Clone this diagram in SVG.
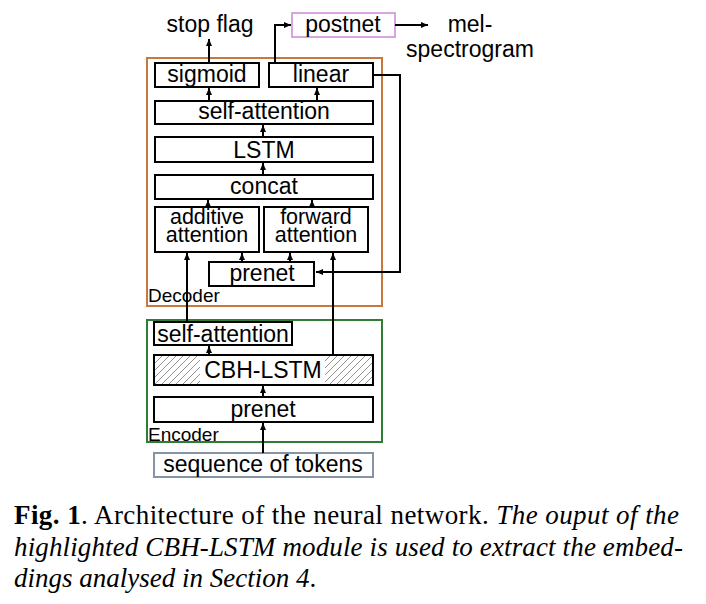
<svg xmlns="http://www.w3.org/2000/svg" width="706" height="604" viewBox="0 0 706 604">
<defs>
<style>
.box{fill:#fff;stroke:#000;stroke-width:2}
.t{font-family:"Liberation Sans",Arial,sans-serif;font-size:23px;fill:#000;text-anchor:middle}
.t2{font-family:"Liberation Sans",Arial,sans-serif;font-size:21.5px;fill:#000;text-anchor:middle}
.lbl{font-family:"Liberation Sans",Arial,sans-serif;font-size:19px;fill:#000}
.cap{font-family:"Liberation Serif","Times New Roman",serif;font-size:27px;fill:#000}
.ln{fill:none;stroke:#000;stroke-width:2}
</style>
<marker id="ah" markerWidth="8" markerHeight="8" refX="7" refY="4" orient="auto" markerUnits="userSpaceOnUse">
<path d="M0,1 L7,4 L0,7 Z" fill="#000"/>
</marker>
<pattern id="hatch" patternUnits="userSpaceOnUse" width="7" height="7">
<path d="M-1,8 L8,-1 M-1,1 L1,-1 M6,8 L8,6" stroke="#777" stroke-width="0.8"/>
</pattern>
</defs>
<rect width="706" height="604" fill="#fff"/>

<g id="decoder">
<rect x="147" y="58" width="235" height="248" fill="none" stroke="#c8783c" stroke-width="2"/>
<text class="lbl" x="148" y="302">Decoder</text>
</g>
<g id="encoder">
<rect x="147" y="320" width="235" height="122" fill="none" stroke="#2e7d32" stroke-width="2"/>
<text class="lbl" x="148" y="441">Encoder</text>
</g>

<g id="stop-flag"><text class="t" x="210" y="32">stop flag</text></g>
<g id="postnet">
<rect x="292" y="13" width="103" height="24" fill="#fff" stroke="#d8a4e0" stroke-width="2"/>
<text class="t" x="343" y="32">postnet</text>
</g>
<g id="mel-spectrogram">
<text class="t" x="470" y="32">mel-</text>
<text class="t" x="470" y="57">spectrogram</text>
</g>
<g id="sigmoid">
<rect class="box" x="155" y="63" width="104" height="24"/>
<text class="t" x="207" y="82">sigmoid</text>
</g>
<g id="linear">
<rect class="box" x="269" y="63" width="104" height="24"/>
<text class="t" x="321" y="82">linear</text>
</g>
<g id="dec-self-attention">
<rect class="box" x="155" y="101" width="218" height="23"/>
<text class="t" x="264" y="119">self-attention</text>
</g>
<g id="lstm">
<rect class="box" x="155" y="137" width="218" height="25"/>
<text class="t" x="264" y="158">LSTM</text>
</g>
<g id="concat">
<rect class="box" x="155" y="175" width="218" height="24"/>
<text class="t" x="264" y="194">concat</text>
</g>
<g id="additive-attention">
<rect class="box" x="155" y="207" width="104" height="45"/>
<text class="t2" x="207" y="224">additive</text>
<text class="t2" x="207" y="242">attention</text>
</g>
<g id="forward-attention">
<rect class="box" x="264" y="207" width="104" height="45"/>
<text class="t2" x="316" y="224">forward</text>
<text class="t2" x="316" y="242">attention</text>
</g>
<g id="dec-prenet">
<rect class="box" x="209" y="262" width="105" height="24"/>
<text class="t" x="262" y="281">prenet</text>
</g>

<g id="enc-self-attention">
<rect class="box" x="154" y="322" width="138" height="23"/>
<text class="t" x="223" y="342">self-attention</text>
</g>
<g id="cbh-lstm">
<rect x="154" y="355" width="219" height="30" fill="url(#hatch)" stroke="#000" stroke-width="2"/>
<rect x="200" y="356" width="125" height="28" fill="#fff"/>
<text class="t" x="263" y="378">CBH-LSTM</text>
</g>
<g id="enc-prenet">
<rect class="box" x="154" y="397" width="219" height="25"/>
<text class="t" x="263" y="417">prenet</text>
</g>
<g id="sequence-of-tokens">
<rect x="154" y="453" width="219" height="24" fill="#fff" stroke="#8494a4" stroke-width="2"/>
<text class="t" x="263" y="472">sequence of tokens</text>
</g>

<g id="connectors">
<path class="ln" d="M209,63 V39" marker-end="url(#ah)"/>
<path class="ln" d="M275,63 V25 H291" marker-end="url(#ah)"/>
<path class="ln" d="M395,25 H428" marker-end="url(#ah)"/>
<path class="ln" d="M373,75 H400 V272 H316" marker-end="url(#ah)"/>
<path class="ln" d="M209,101 V88" marker-end="url(#ah)"/>
<path class="ln" d="M317,101 V88" marker-end="url(#ah)"/>
<path class="ln" d="M263,137 V125" marker-end="url(#ah)"/>
<path class="ln" d="M263,175 V163" marker-end="url(#ah)"/>
<path class="ln" d="M208,207 V200" marker-end="url(#ah)"/>
<path class="ln" d="M312,207 V200" marker-end="url(#ah)"/>
<path class="ln" d="M242,262 V253" marker-end="url(#ah)"/>
<path class="ln" d="M290,262 V253" marker-end="url(#ah)"/>
<path class="ln" d="M187,322 V253" marker-end="url(#ah)"/>
<path class="ln" d="M333,355 V253" marker-end="url(#ah)"/>
<path class="ln" d="M209,355 V346" marker-end="url(#ah)"/>
<path class="ln" d="M263,397 V386" marker-end="url(#ah)"/>
<path class="ln" d="M263,453 V423" marker-end="url(#ah)"/>
</g>

<g id="caption">
<text class="cap" x="14" y="524" textLength="665" lengthAdjust="spacing"><tspan font-weight="bold">Fig. 1</tspan>.  Architecture of the neural network.  <tspan font-style="italic">The ouput of the</tspan></text>
<text class="cap" x="14" y="556" textLength="669" lengthAdjust="spacing" font-style="italic">highlighted CBH-LSTM module is used to extract the embed-</text>
<text class="cap" x="14" y="587"><tspan font-style="italic">dings analysed in Section 4</tspan>.</text>
</g>
</svg>
